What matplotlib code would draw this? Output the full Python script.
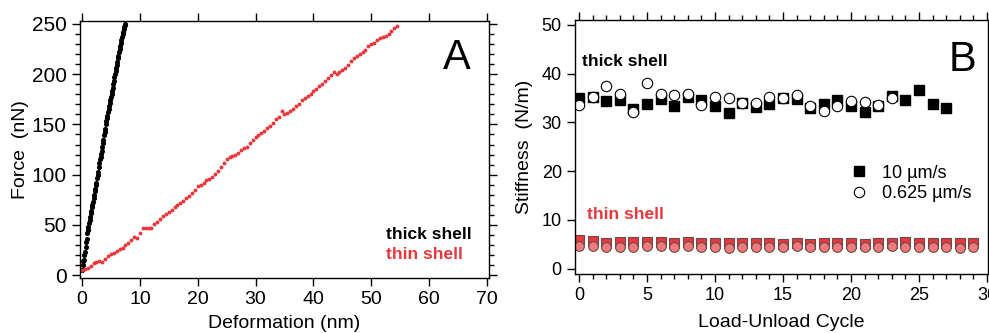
import matplotlib
matplotlib.use('Agg')
import matplotlib.pyplot as plt
import numpy as np
from matplotlib.ticker import MultipleLocator

plt.rcParams['font.family'] = ['Liberation Sans', 'DejaVu Sans']
plt.rcParams['font.size'] = 13
plt.rcParams['axes.linewidth'] = 1.0

######################################
# Panel A data: force vs deformation
# thick shell, deformation in 0.1 nm steps
thick_def = np.arange(0, 7.55, 0.1)
thick_force = [5, 10, 14, 15, 20, 23, 28, 33, 36, 42,
               45, 48, 52, 55, 58, 62, 64, 68, 70, 73,
               77, 80, 84, 86, 90, 92, 97, 100, 103, 108,
               112, 116, 118, 121, 124, 128, 131, 134, 139, 142,
               145, 150, 153, 156, 158, 162, 165, 168, 171, 174,
               177, 180, 183, 186, 190, 193, 197, 200, 203, 206,
               209, 212, 216, 218, 222, 225, 228, 231, 234, 237,
               240, 242, 245, 247, 249, 250]
# thin shell, deformation in 0.5 nm steps
thin_def = np.arange(0, 54.75, 0.5)
thin_force = [5, 6, 7, 9, 12, 13, 14, 13, 16, 19,
              21, 22, 24, 26, 27, 30, 32, 35, 38, 37,
              42, 47, 47, 47, 47, 51, 53, 56, 59, 61,
              63, 65, 68, 70, 72, 74, 77, 79, 82, 85,
              89, 90, 92, 95, 96, 98, 101, 104, 108, 112,
              116, 118, 119, 120, 122, 125, 127, 128, 131, 134,
              137, 139, 141, 143, 146, 148, 151, 155, 157, 163,
              160, 161, 163, 165, 168, 170, 174, 176, 178, 180,
              183, 185, 188, 190, 193, 196, 199, 202, 200, 202,
              204, 206, 209, 213, 216, 218, 220, 222, 224, 228,
              230, 231, 234, 236, 237, 238, 240, 243, 246, 248]

# Panel B data: stiffness per load-unload cycle
thick_fast = [35.0, 35.2, 34.4, 34.5, 32.7, 33.7, 34.7, 33.4, 35.2, 34.6,
              33.4, 31.9, 33.9, 33.2, 33.7, 35.0, 34.8, 33.0, 33.7, 34.6,
              33.4, 32.2, 33.3, 35.5, 34.5, 36.7, 33.7, 33.0]
thick_slow = [33.6, 35.3, 37.5, 35.8, 32.1, 38.0, 35.9, 35.6, 35.8, 33.6,
              35.3, 35.1, 34.0, 33.9, 35.2, 35.0, 35.6, 33.3, 32.4, 33.4,
              34.3, 34.1, 33.5, 35.0]
thin_fast = [5.8, 5.7, 5.3, 5.4, 5.4, 5.4, 5.4, 5.3, 5.5, 5.2,
             5.2, 5.2, 5.2, 5.2, 5.2, 5.1, 5.2, 5.1, 5.2, 5.2,
             5.3, 5.1, 5.2, 5.3, 5.5, 5.3, 5.3, 5.2, 5.2, 5.3]
thin_slow = [4.7, 4.6, 4.5, 4.5, 4.5, 4.6, 4.6, 4.4, 4.6, 4.5,
             4.5, 4.3, 4.5, 4.5, 4.5, 4.4, 4.6, 4.5, 4.4, 4.5,
             4.5, 4.5, 4.4, 4.6, 4.5, 4.5, 4.5, 4.5, 4.3, 4.5]
######################################

red = '#e8383d'
pink = '#f07a7a'
edge = '#6a4a4a'

fig = plt.figure(figsize=(9.89, 3.33), dpi=100)
axA = fig.add_axes([0.0809, 0.1652, 0.4135, 0.7718])
axB = fig.add_axes([0.5814, 0.1772, 0.4176, 0.7628])

# Panel A
axA.plot(thick_def, thick_force, 'o', color='black', ms=3.7, mew=0)
axA.plot(thin_def, thin_force, 'o', color=red, ms=2.8, mew=0)
axA.set_xlim(-0.35, 70.35)
axA.set_ylim(-2.7, 252.8)
axA.xaxis.set_major_locator(MultipleLocator(10))
axA.yaxis.set_major_locator(MultipleLocator(50))
axA.yaxis.set_minor_locator(MultipleLocator(10))
axA.tick_params(which='both', direction='out', top=True, right=True, labeltop=False, labelright=False)
axA.tick_params(which='major', length=6, width=1)
axA.tick_params(which='minor', length=3.5, width=1)
axA.tick_params(axis='x', labelsize=14)
axA.tick_params(axis='y', labelsize=15)
axA.set_xlabel('Deformation (nm)', fontsize=14, labelpad=5)
axA.set_ylabel('Force  (nN)', fontsize=14, labelpad=2)
axA.text(52.5, 41, 'thick shell', fontsize=12.5, fontweight='bold', color='black', va='center')
axA.text(52.5, 21, 'thin shell', fontsize=12.5, fontweight='bold', color=red, va='center')
axA.text(64.8, 216, 'A', fontsize=30, ha='center', va='center')

# Panel B
cyc_fast = np.arange(len(thick_fast))
cyc_slow = np.arange(len(thick_slow))
cyc_thin = np.arange(len(thin_fast))
axB.plot(cyc_thin, thin_fast, 's', mfc=red, mec=edge, mew=0.8, ms=7)
axB.plot(cyc_thin, thin_slow, 'o', mfc=pink, mec=edge, mew=0.8, ms=7)
axB.plot(cyc_fast, thick_fast, 's', mfc='black', mec='black', ms=7.2, label='10 µm/s')
axB.plot(cyc_slow, thick_slow, 'o', mfc='white', mec='black', mew=0.8, ms=7.5, label='0.625 µm/s')
axB.set_xlim(-0.29, 30.07)
axB.set_ylim(-1.1, 51.0)
axB.xaxis.set_major_locator(MultipleLocator(5))
axB.xaxis.set_minor_locator(MultipleLocator(1))
axB.yaxis.set_major_locator(MultipleLocator(10))
axB.tick_params(which='both', direction='out', top=True, right=True, labeltop=False, labelright=False)
axB.tick_params(which='major', length=6, width=1)
axB.tick_params(which='minor', length=3.5, width=1)
axB.set_xlabel('Load-Unload Cycle', fontsize=14, labelpad=7)
axB.set_ylabel('Stiffness  (N/m)', fontsize=14, labelpad=6)
axB.text(0.2, 42.4, 'thick shell', fontsize=12.5, fontweight='bold', color='black', va='center')
axB.text(0.6, 11.0, 'thin shell', fontsize=12.5, fontweight='bold', color=red, va='center')
axB.text(28.2, 42.8, 'B', fontsize=30, ha='center', va='center')
axB.legend(loc='upper left', bbox_to_anchor=(0.665, 0.43), frameon=False,
           handlelength=1, handletextpad=0.8, borderpad=0, borderaxespad=0,
           labelspacing=0.2, fontsize=13)

fig.savefig('out.png', dpi=100)
